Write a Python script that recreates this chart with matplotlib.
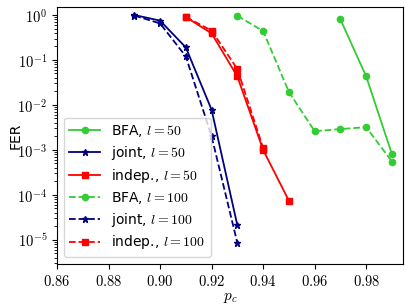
import matplotlib
matplotlib.use("Agg")
import numpy as np
import matplotlib.pyplot as plt
from matplotlib.ticker import FuncFormatter, LogLocator

plt.rcParams["mathtext.fontset"] = "cm"
plt.rcParams["font.family"] = "DejaVu Sans"

# BFA
bfa50_x = [0.97, 0.98, 0.99]
bfa50_y = [0.80, 0.043, 8.0e-4]
bfa100_x = [0.93, 0.94, 0.95, 0.96, 0.97, 0.98, 0.99]
bfa100_y = [0.96, 0.44, 0.0195, 2.6e-3, 2.9e-3, 3.2e-3, 5.5e-4]

# joint
joint50_x = [0.89, 0.90, 0.91, 0.92, 0.93]
joint50_y = [1.0, 0.75, 0.19, 7.8e-3, 2.1e-5]
joint100_x = [0.89, 0.90, 0.91, 0.92, 0.93]
joint100_y = [0.97, 0.65, 0.12, 2.0e-3, 8.5e-6]

# indep.
indep50_x = [0.91, 0.92, 0.93, 0.94, 0.95]
indep50_y = [0.90, 0.39, 0.043, 1.0e-3, 7.4e-5]
indep100_x = [0.91, 0.92, 0.93, 0.94]
indep100_y = [0.90, 0.45, 0.063, 1.1e-3]

green = "#33cc33"
navy = "#000080"
red = "#ff0000"

fig = plt.figure(figsize=(4.10, 3.08), dpi=100)
ax = fig.add_axes([0.139, 0.143, 0.844, 0.834])

ax.plot(bfa50_x, bfa50_y, "-", color=green, marker="o", ms=4.5, lw=1.3, label=r"BFA, $l=50$")
ax.plot(joint50_x, joint50_y, "-", color=navy, marker="*", ms=5, lw=1.3, label=r"joint, $l=50$")
ax.plot(indep50_x, indep50_y, "-", color=red, marker="s", ms=5, lw=1.3, label=r"indep., $l=50$")
ax.plot(bfa100_x, bfa100_y, "--", color=green, marker="o", ms=4.5, lw=1.3, label=r"BFA, $l=100$")
ax.plot(joint100_x, joint100_y, "--", color=navy, marker="*", ms=5, lw=1.3, label=r"joint, $l=100$")
ax.plot(indep100_x, indep100_y, "--", color=red, marker="s", ms=5, lw=1.3, label=r"indep., $l=100$")

ax.set_yscale("log")
ax.set_xlim(0.86, 0.9943)
ax.set_ylim(2.9e-6, 1.5)
ax.yaxis.set_major_locator(LogLocator(base=10, numticks=10))
ax.yaxis.set_major_formatter(FuncFormatter(lambda v, p: r"$10^{%d}$" % int(round(np.log10(v)))))
ax.set_xticks([0.86, 0.88, 0.90, 0.92, 0.94, 0.96, 0.98])
ax.xaxis.set_major_formatter(FuncFormatter(lambda v, p: f"${v:.2f}$"))
ax.tick_params(labelsize=10.5)
ax.set_xlabel(r"$p_c$", fontsize=11, labelpad=1)
ax.set_ylabel("FER", fontsize=10)
ax.yaxis.set_label_coords(-0.10, 0.5)
ax.legend(loc="lower left", fontsize=10, handlelength=2.2, labelspacing=0.35)

plt.savefig("out.png", dpi=100)
